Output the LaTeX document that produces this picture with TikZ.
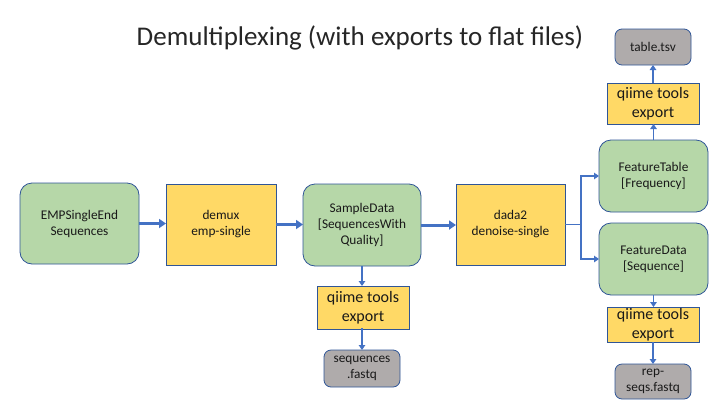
\documentclass[tikz,border=0pt]{standalone}
\usepackage{fontspec}
\setmainfont{Carlito}
\usetikzlibrary{arrows.meta}
\definecolor{boxgreen}{HTML}{B6D7A8}
\definecolor{boxyellow}{HTML}{FFD966}
\definecolor{boxgray}{HTML}{AFABAB}
\definecolor{boxline}{HTML}{2F5597}
\definecolor{arrowblue}{HTML}{4472C4}
\begin{document}
\begin{tikzpicture}[x=1pt,y=-1pt,
    box/.style={draw=boxline,line width=0.8pt,align=center,inner sep=0pt,outer sep=0pt,text=black!90,font=\fontsize{13.3}{16}\selectfont},
    artifact/.style={box,fill=boxgreen,rounded corners=12pt},
    action/.style={box,fill=boxyellow},
    export/.style={box,fill=boxyellow,minimum width=92pt,font=\fontsize{16}{19.5}\selectfont},
    flatfile/.style={box,fill=boxgray,rounded corners=7pt,minimum width=76pt},
    link/.style={arrowblue,line width=1.8pt,-{Triangle[length=5pt,width=6.5pt]}},
    biglink/.style={arrowblue,line width=3pt,-{Triangle[length=7pt,width=9pt]}}]
    \useasboundingbox (0,0) rectangle (720,405);
    \node[font=\fontsize{27}{32}\selectfont,text=black!85] (title) at (360,38) {Demultiplexing (with exports to flat files)};
    \node[artifact,minimum width=119pt,minimum height=81pt] (emp) at (79.5,223.5) {EMPSingleEnd\\Sequences};
    \node[action,minimum width=110pt,minimum height=81pt] (demux) at (221,224.5) {demux\\emp-single};
    \node[artifact,minimum width=118pt,minimum height=82pt] (sample) at (362,225) {SampleData\\{[}SequencesWith\\Quality{]}};
    \node[action,minimum width=109pt,minimum height=81pt] (dada) at (510.5,224.5) {dada2\\denoise-single};
    \node[artifact,minimum width=109pt,minimum height=72pt] (ft) at (653.5,176) {FeatureTable\\{[}Frequency{]}};
    \node[artifact,minimum width=109pt,minimum height=72pt] (fd) at (653.5,259) {FeatureData\\{[}Sequence{]}};
    \node[export,minimum height=41pt] (exptable) at (653,103.5) {qiime tools\\export};
    \node[flatfile,minimum height=36pt] (tsv) at (653,47) {table.tsv};
    \node[export,minimum height=35pt] (expseq) at (653,324.5) {qiime tools\\export};
    \node[flatfile,minimum height=35pt] (rep) at (653,381.5) {rep-\\seqs.fastq};
    \node[export,minimum height=43pt] (expsample) at (363,307.5) {qiime tools\\export};
    \node[flatfile,minimum height=37pt] (seqs) at (362,368.5) {sequences\\.fastq};
    \coordinate (split) at (581,224.5);
    \draw[biglink] (emp.east) -- (emp.east -| demux.west);
    \draw[biglink] (demux.east) -- (demux.east -| sample.west);
    \draw[biglink] (sample.east) -- (sample.east -| dada.west);
    \draw[arrowblue,line width=1.8pt] (dada.east) -- (split);
    \draw[link] (split) |- (ft.west);
    \draw[link] (split) |- (fd.west);
    \draw[link] (ft.north) -- (exptable.south -| ft.north);
    \draw[link] (exptable.north) -- (tsv.south);
    \draw[link] (fd.south) -- (expseq.north -| fd.south);
    \draw[link] (expseq.south) -- (rep.north);
    \draw[link] (sample.south) -- (sample.south |- expsample.north);
    \draw[link] (expsample.south) -- (expsample.south -| seqs.north) -- (seqs.north);
\end{tikzpicture}
\end{document}
